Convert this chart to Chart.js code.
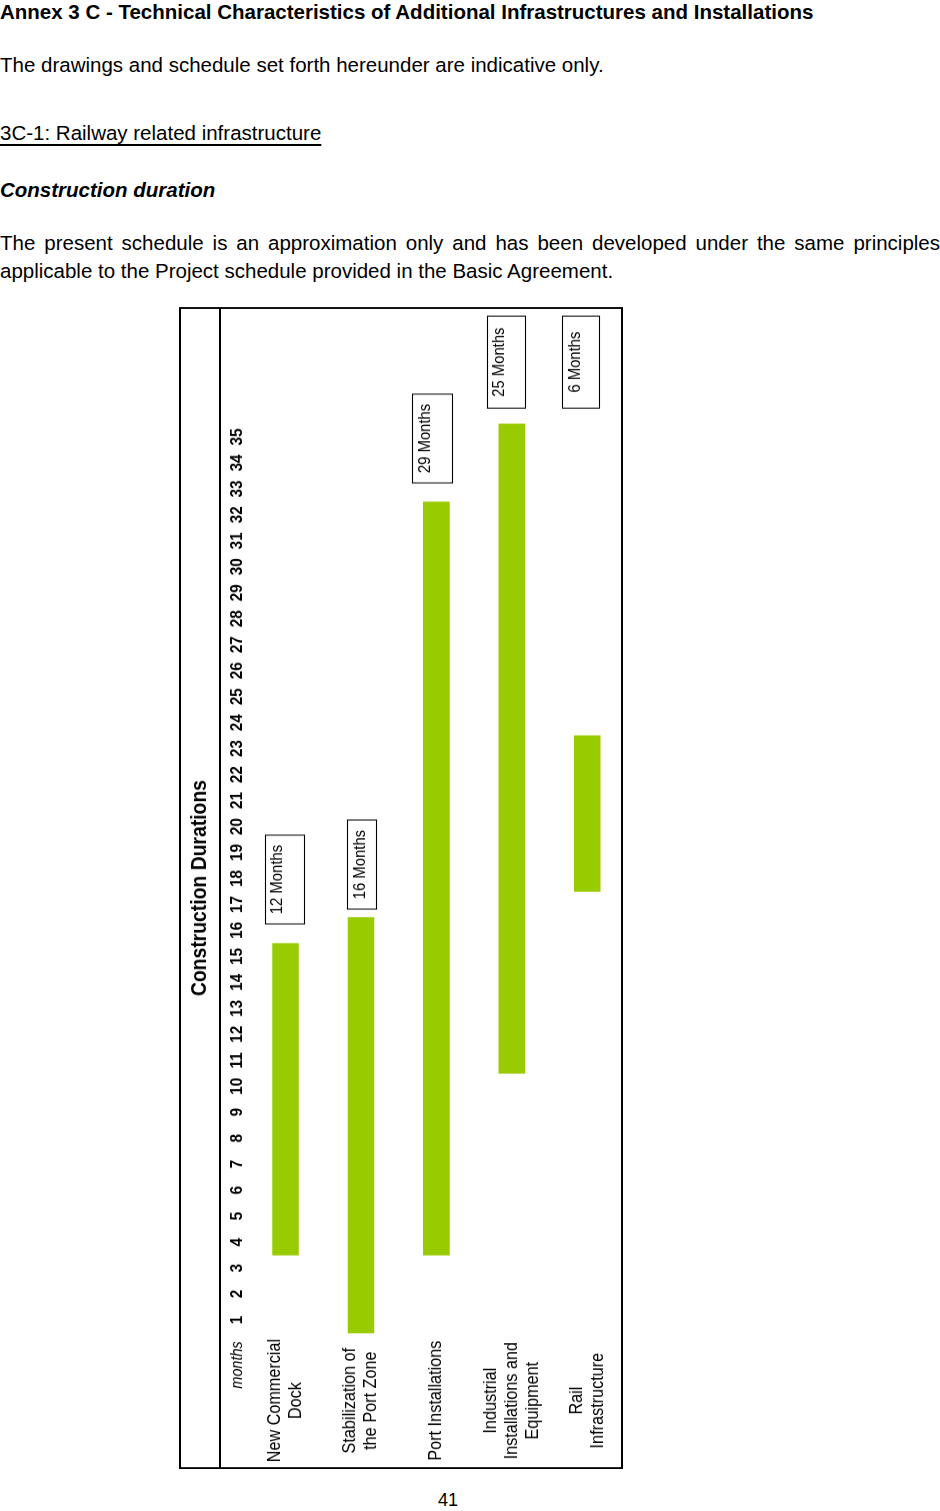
<!DOCTYPE html>
<html>
<head>
<meta charset="utf-8">
<script src="https://cdn.jsdelivr.net/npm/chart.js@4.4.0/dist/chart.umd.min.js"></script>
<style>
html,body{margin:0;padding:0;background:#fff;}
body{width:940px;height:1511px;position:relative;overflow:hidden;font-family:"Liberation Sans",Arial,sans-serif;color:#000;}
.t{position:absolute;left:0;font-size:20.5px;line-height:20.5px;white-space:nowrap;}
.b{font-weight:bold;}
.u{text-decoration:underline;text-decoration-thickness:1.5px;text-underline-offset:4px;text-decoration-skip-ink:none;}
.bi{font-weight:bold;font-style:italic;}
.j{width:940px;text-align:justify;text-align-last:justify;}
#frame{position:absolute;left:179px;top:307px;width:445px;height:1162px;overflow:hidden;}
#rot{position:absolute;left:0;top:0;width:1291px;height:447px;transform-origin:0 0;transform:translate(0,1162px) rotate(-90deg) scale(0.9,1);}
#pg{position:absolute;top:1491px;left:448px;transform:translateX(-50%);font-size:18px;line-height:18px;}
</style>
</head>
<body>
<div class="t b" style="top:1.5px">Annex 3 C - Technical Characteristics of Additional Infrastructures and Installations</div>
<div class="t" style="top:54.5px">The drawings and schedule set forth hereunder are indicative only.</div>
<div class="t u" style="top:122.5px">3C-1: Railway related infrastructure</div>
<div class="t bi" style="top:179.5px">Construction duration</div>
<div class="t j" style="top:233px">The present schedule is an approximation only and has been developed under the same principles</div>
<div class="t" style="top:261px">applicable to the Project schedule provided in the Basic Agreement.</div>
<div id="frame"><div id="rot"><canvas id="c" width="1291" height="447" style="width:1291px;height:447px;display:block"></canvas></div></div>
<div id="pg">41</div>
<script>
// ---- data ----
const categories = [
  ['New Commercial', 'Dock'],
  ['Stabilization of', 'the Port Zone'],
  ['Port Installations'],
  ['Industrial', 'Installations and', 'Equipment'],
  ['Rail', 'Infrastructure']
];
const startMonth = [4, 1, 4, 11, 18];
const durationMonths = [12, 16, 29, 25, 6];
const monthTicks = [1,2,3,4,5,6,7,8,9,10,11,12,13,14,15,16,17,18,19,20,21,22,23,24,25,26,27,28,29,30,31,32,33,34,35];
const axisWord = 'months';
const chartTitle = 'Construction Durations';

const FONT = '"Liberation Sans", Arial, sans-serif';
const bars = startMonth.map((s, i) => [s - 0.5, s - 0.5 + durationMonths[i]]);

const framePlugin = {
  id: 'frameAndLabels',
  afterDraw(chart, args, opts) {
    const {ctx, scales: {x, y}, width} = chart;
    ctx.save();
    // duration boxes
    opts.boxes.forEach((b, i) => {
      const u0 = x.getPixelForValue(b.from), u1 = x.getPixelForValue(b.to);
      const c = y.getPixelForValue(i);
      const top = c + b.top, h = b.bottom - b.top;
      ctx.lineWidth = 1.1;
      ctx.strokeStyle = '#000';
      ctx.strokeRect(u0, Math.round(top) + 0.5, u1 - u0, Math.round(h));
      ctx.font = '16.5px ' + FONT;
      ctx.fillStyle = '#000';
      ctx.textAlign = 'center';
      ctx.textBaseline = 'middle';
      ctx.fillText(durationMonths[i] + ' Months', (u0 + u1) / 2, top + Math.min(12.5, h / 2) + 0.5);
    });
    // axis word
    ctx.font = 'italic 16px ' + FONT;
    ctx.textAlign = 'center';
    ctx.textBaseline = 'middle';
    ctx.fillText(axisWord, x.getPixelForValue(opts.axisWordAt), 59);
    // frame + separator
    ctx.strokeStyle = '#000';
    ctx.lineWidth = 2;
    ctx.strokeRect(1, 1, width - 2, 442);
    ctx.beginPath();
    ctx.moveTo(0, 41);
    ctx.lineTo(width, 41);
    ctx.stroke();
    ctx.restore();
  }
};

new Chart(document.getElementById('c'), {
  type: 'bar',
  data: {
    labels: categories,
    datasets: [{
      data: bars,
      backgroundColor: '#99CC00',
      borderWidth: 0,
      barThickness: 26
    }]
  },
  options: {
    indexAxis: 'y',
    responsive: false,
    devicePixelRatio: 1,
    animation: false,
    layout: {padding: {left: 0, right: 0, top: 0, bottom: 1}},
    plugins: {
      legend: {display: false},
      tooltip: {enabled: false},
      title: {
        display: true,
        text: chartTitle,
        color: '#000',
        font: {family: FONT, size: 21.5, weight: 'bold', lineHeight: 1.2},
        padding: {top: 8, bottom: 6.2}
      },
      frameAndLabels: {
        axisWordAt: -0.73,
        boxes: [
          {from: 16.25, to: 19.67, top: -21, bottom: 18},
          {from: 16.82, to: 20.25, top: -14, bottom: 15},
          {from: 33.23, to: 36.65, top: -24, bottom: 16},
          {from: 36.11, to: 39.65, top: -25, bottom: 13},
          {from: 36.11, to: 39.65, top: -25, bottom: 12}
        ]
      }
    },
    scales: {
      x: {
        type: 'linear',
        position: 'top',
        min: 0.269,
        max: 40,
        grid: {display: false, drawTicks: false},
        border: {display: false},
        afterBuildTicks(scale) { scale.ticks = monthTicks.map(v => ({value: v})); },
        afterFit(scale) { scale.height = 28.8; scale.paddingLeft = 0; scale.paddingRight = 0; },
        ticks: {
          autoSkip: false,
          maxRotation: 0,
          padding: 0,
          color: '#000',
          font: {family: FONT, size: 17, weight: 'bold', lineHeight: 1.2}
        }
      },
      y: {
        type: 'category',
        offset: true,
        grid: {display: false, drawTicks: false},
        border: {display: false},
        afterFit(scale) { scale.width = 144.4; scale.paddingTop = 0; scale.paddingBottom = 0; },
        ticks: {
          crossAlign: 'center',
          padding: 0,
          color: '#000',
          font: {family: FONT, size: 18, lineHeight: 1.1667}
        }
      }
    }
  },
  plugins: [framePlugin]
});
</script>
</body>
</html>
